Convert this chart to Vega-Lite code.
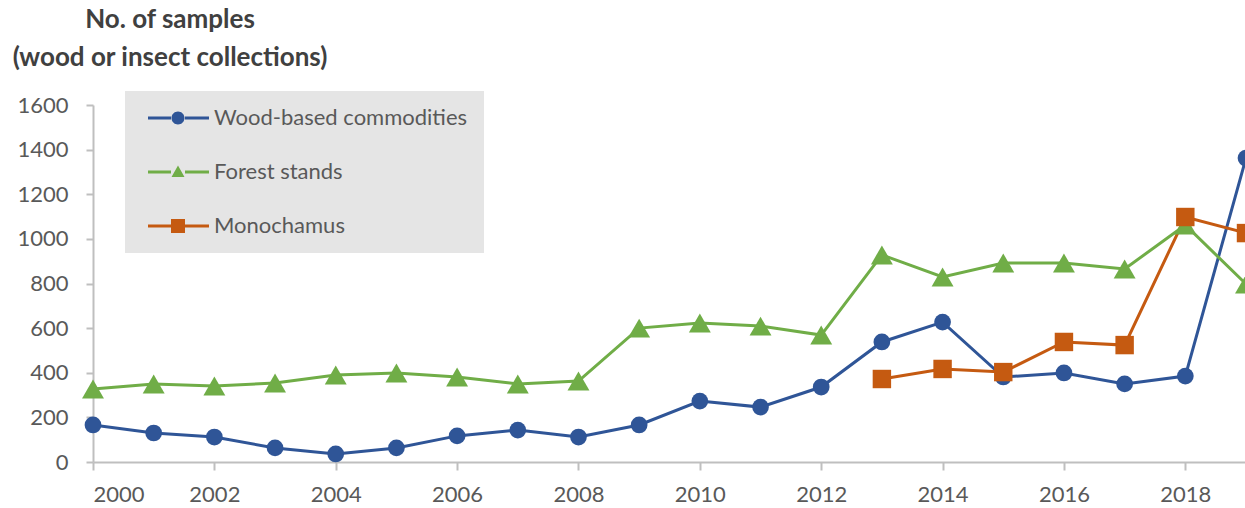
{
  "$schema": "https://vega.github.io/schema/vega-lite/v6.json",
  "autosize": {"type": "none"},
  "padding": {"left": 93, "top": 105, "right": 0, "bottom": 46},
  "width": 1153,
  "height": 357,
  "background": "white",
  "config": {
    "view": {"stroke": null},
    "font": "Lato",
    "legend": {
      "title": null,
      "orient": "none",
      "legendX": 32,
      "legendY": -14,
      "padding": 16,
      "fillColor": "#e5e5e5",
      "symbolSize": 400,
      "symbolStrokeWidth": 0,
      "symbolOpacity": 1,
      "rowPadding": 32,
      "labelOffset": 51,
      "labelFontSize": 22,
      "labelColor": "#595959",
      "labelFont": "Lato",
      "labelLimit": 400
    }
  },
  "title": {
    "text": ["No. of samples", "(wood or insect collections)"],
    "anchor": "start",
    "frame": "group",
    "align": "center",
    "dx": 77,
    "offset": 20,
    "fontSize": 26,
    "fontWeight": "bold",
    "color": "#404040",
    "font": "Lato",
    "lineHeight": 38
  },
  "data": {
    "values": [
      {"year": 2000, "series": "Wood-based commodities", "value": 166},
      {"year": 2001, "series": "Wood-based commodities", "value": 130},
      {"year": 2002, "series": "Wood-based commodities", "value": 112},
      {"year": 2003, "series": "Wood-based commodities", "value": 63},
      {"year": 2004, "series": "Wood-based commodities", "value": 36},
      {"year": 2005, "series": "Wood-based commodities", "value": 63},
      {"year": 2006, "series": "Wood-based commodities", "value": 117},
      {"year": 2007, "series": "Wood-based commodities", "value": 143},
      {"year": 2008, "series": "Wood-based commodities", "value": 112},
      {"year": 2009, "series": "Wood-based commodities", "value": 166},
      {"year": 2010, "series": "Wood-based commodities", "value": 273},
      {"year": 2011, "series": "Wood-based commodities", "value": 246},
      {"year": 2012, "series": "Wood-based commodities", "value": 336},
      {"year": 2013, "series": "Wood-based commodities", "value": 538},
      {"year": 2014, "series": "Wood-based commodities", "value": 627},
      {"year": 2015, "series": "Wood-based commodities", "value": 381},
      {"year": 2016, "series": "Wood-based commodities", "value": 399},
      {"year": 2017, "series": "Wood-based commodities", "value": 350},
      {"year": 2018, "series": "Wood-based commodities", "value": 385},
      {"year": 2019, "series": "Wood-based commodities", "value": 1362},
      {"year": 2000, "series": "Forest stands", "value": 327},
      {"year": 2001, "series": "Forest stands", "value": 350},
      {"year": 2002, "series": "Forest stands", "value": 341},
      {"year": 2003, "series": "Forest stands", "value": 354},
      {"year": 2004, "series": "Forest stands", "value": 390},
      {"year": 2005, "series": "Forest stands", "value": 399},
      {"year": 2006, "series": "Forest stands", "value": 381},
      {"year": 2007, "series": "Forest stands", "value": 350},
      {"year": 2008, "series": "Forest stands", "value": 363},
      {"year": 2009, "series": "Forest stands", "value": 600},
      {"year": 2010, "series": "Forest stands", "value": 623},
      {"year": 2011, "series": "Forest stands", "value": 609},
      {"year": 2012, "series": "Forest stands", "value": 569},
      {"year": 2013, "series": "Forest stands", "value": 928},
      {"year": 2014, "series": "Forest stands", "value": 829},
      {"year": 2015, "series": "Forest stands", "value": 892},
      {"year": 2016, "series": "Forest stands", "value": 892},
      {"year": 2017, "series": "Forest stands", "value": 865},
      {"year": 2018, "series": "Forest stands", "value": 1062},
      {"year": 2019, "series": "Forest stands", "value": 798},
      {"year": 2013, "series": "Monochamus", "value": 372},
      {"year": 2014, "series": "Monochamus", "value": 417},
      {"year": 2015, "series": "Monochamus", "value": 403},
      {"year": 2016, "series": "Monochamus", "value": 538},
      {"year": 2017, "series": "Monochamus", "value": 524},
      {"year": 2018, "series": "Monochamus", "value": 1098},
      {"year": 2019, "series": "Monochamus", "value": 1026}
    ]
  },
  "encoding": {
    "x": {
      "field": "year",
      "type": "quantitative",
      "scale": {"domain": [2000, 2019], "nice": false, "zero": false},
      "axis": {
        "title": null,
        "values": [2000, 2002, 2004, 2006, 2008, 2010, 2012, 2014, 2016, 2018],
        "format": "d",
        "grid": false,
        "domainColor": "#bfbfbf",
        "domainWidth": 2,
        "tickColor": "#bfbfbf",
        "tickWidth": 2,
        "tickSize": 8,
        "labelPadding": 14,
        "labelFontSize": 22,
        "labelColor": "#595959",
        "labelFont": "Lato"
      }
    },
    "y": {
      "field": "value",
      "type": "quantitative",
      "scale": {"domain": [0, 1600], "nice": false},
      "axis": {
        "title": null,
        "values": [0, 200, 400, 600, 800, 1000, 1200, 1400, 1600],
        "format": "d",
        "grid": false,
        "domainColor": "#bfbfbf",
        "domainWidth": 2,
        "tickColor": "#bfbfbf",
        "tickWidth": 2,
        "tickSize": 7,
        "labelPadding": 18,
        "labelFontSize": 22,
        "labelColor": "#595959",
        "labelFont": "Lato"
      }
    },
    "color": {
      "field": "series",
      "type": "nominal",
      "scale": {
        "domain": ["Wood-based commodities", "Forest stands", "Monochamus"],
        "range": ["#2F5597", "#70AD47", "#C55A11"]
      },
      "legend": {
        "encode": {
          "symbols": {
            "update": {
              "shape": {"signal": "datum.value === 'Wood-based commodities' ? 'M-0.4,-0.14H1.9V0.14H-0.4Z M3.3,-0.14H5.7V0.14H3.3Z M3.25,0 A0.65,0.65 0 1,1 1.95,0 A0.65,0.65 0 1,1 3.25,0Z' : datum.value === 'Forest stands' ? 'M-0.4,-0.14H1.9V0.14H-0.4Z M3.3,-0.14H5.7V0.14H3.3Z M2.6,-0.65 L3.25,0.5 L1.95,0.5Z' : 'M-0.4,-0.14H1.9V0.14H-0.4Z M3.3,-0.14H5.7V0.14H3.3Z M1.9,-0.7H3.3V0.7H1.9Z'"},
              "fill": {"signal": "datum.value === 'Wood-based commodities' ? '#2F5597' : datum.value === 'Forest stands' ? '#70AD47' : '#C55A11'"},
              "strokeWidth": {"value": 0},
              "opacity": {"value": 1}
            }
          }
        }
      }
    }
  },
  "layer": [
    {
      "mark": {"type": "line", "strokeWidth": 3},
      "encoding": {}
    },
    {
      "transform": [{"filter": "datum.series === 'Wood-based commodities'"}],
      "mark": {"type": "point", "shape": "circle", "size": 280, "filled": true, "opacity": 1, "strokeWidth": 0},
      "encoding": {}
    },
    {
      "transform": [{"filter": "datum.series === 'Forest stands'"}],
      "mark": {"type": "point", "shape": "triangle-up", "size": 480, "filled": true, "opacity": 1, "strokeWidth": 0},
      "encoding": {}
    },
    {
      "transform": [{"filter": "datum.series === 'Monochamus'"}],
      "mark": {"type": "point", "shape": "square", "size": 340, "filled": true, "opacity": 1, "strokeWidth": 0},
      "encoding": {}
    }
  ]
}
